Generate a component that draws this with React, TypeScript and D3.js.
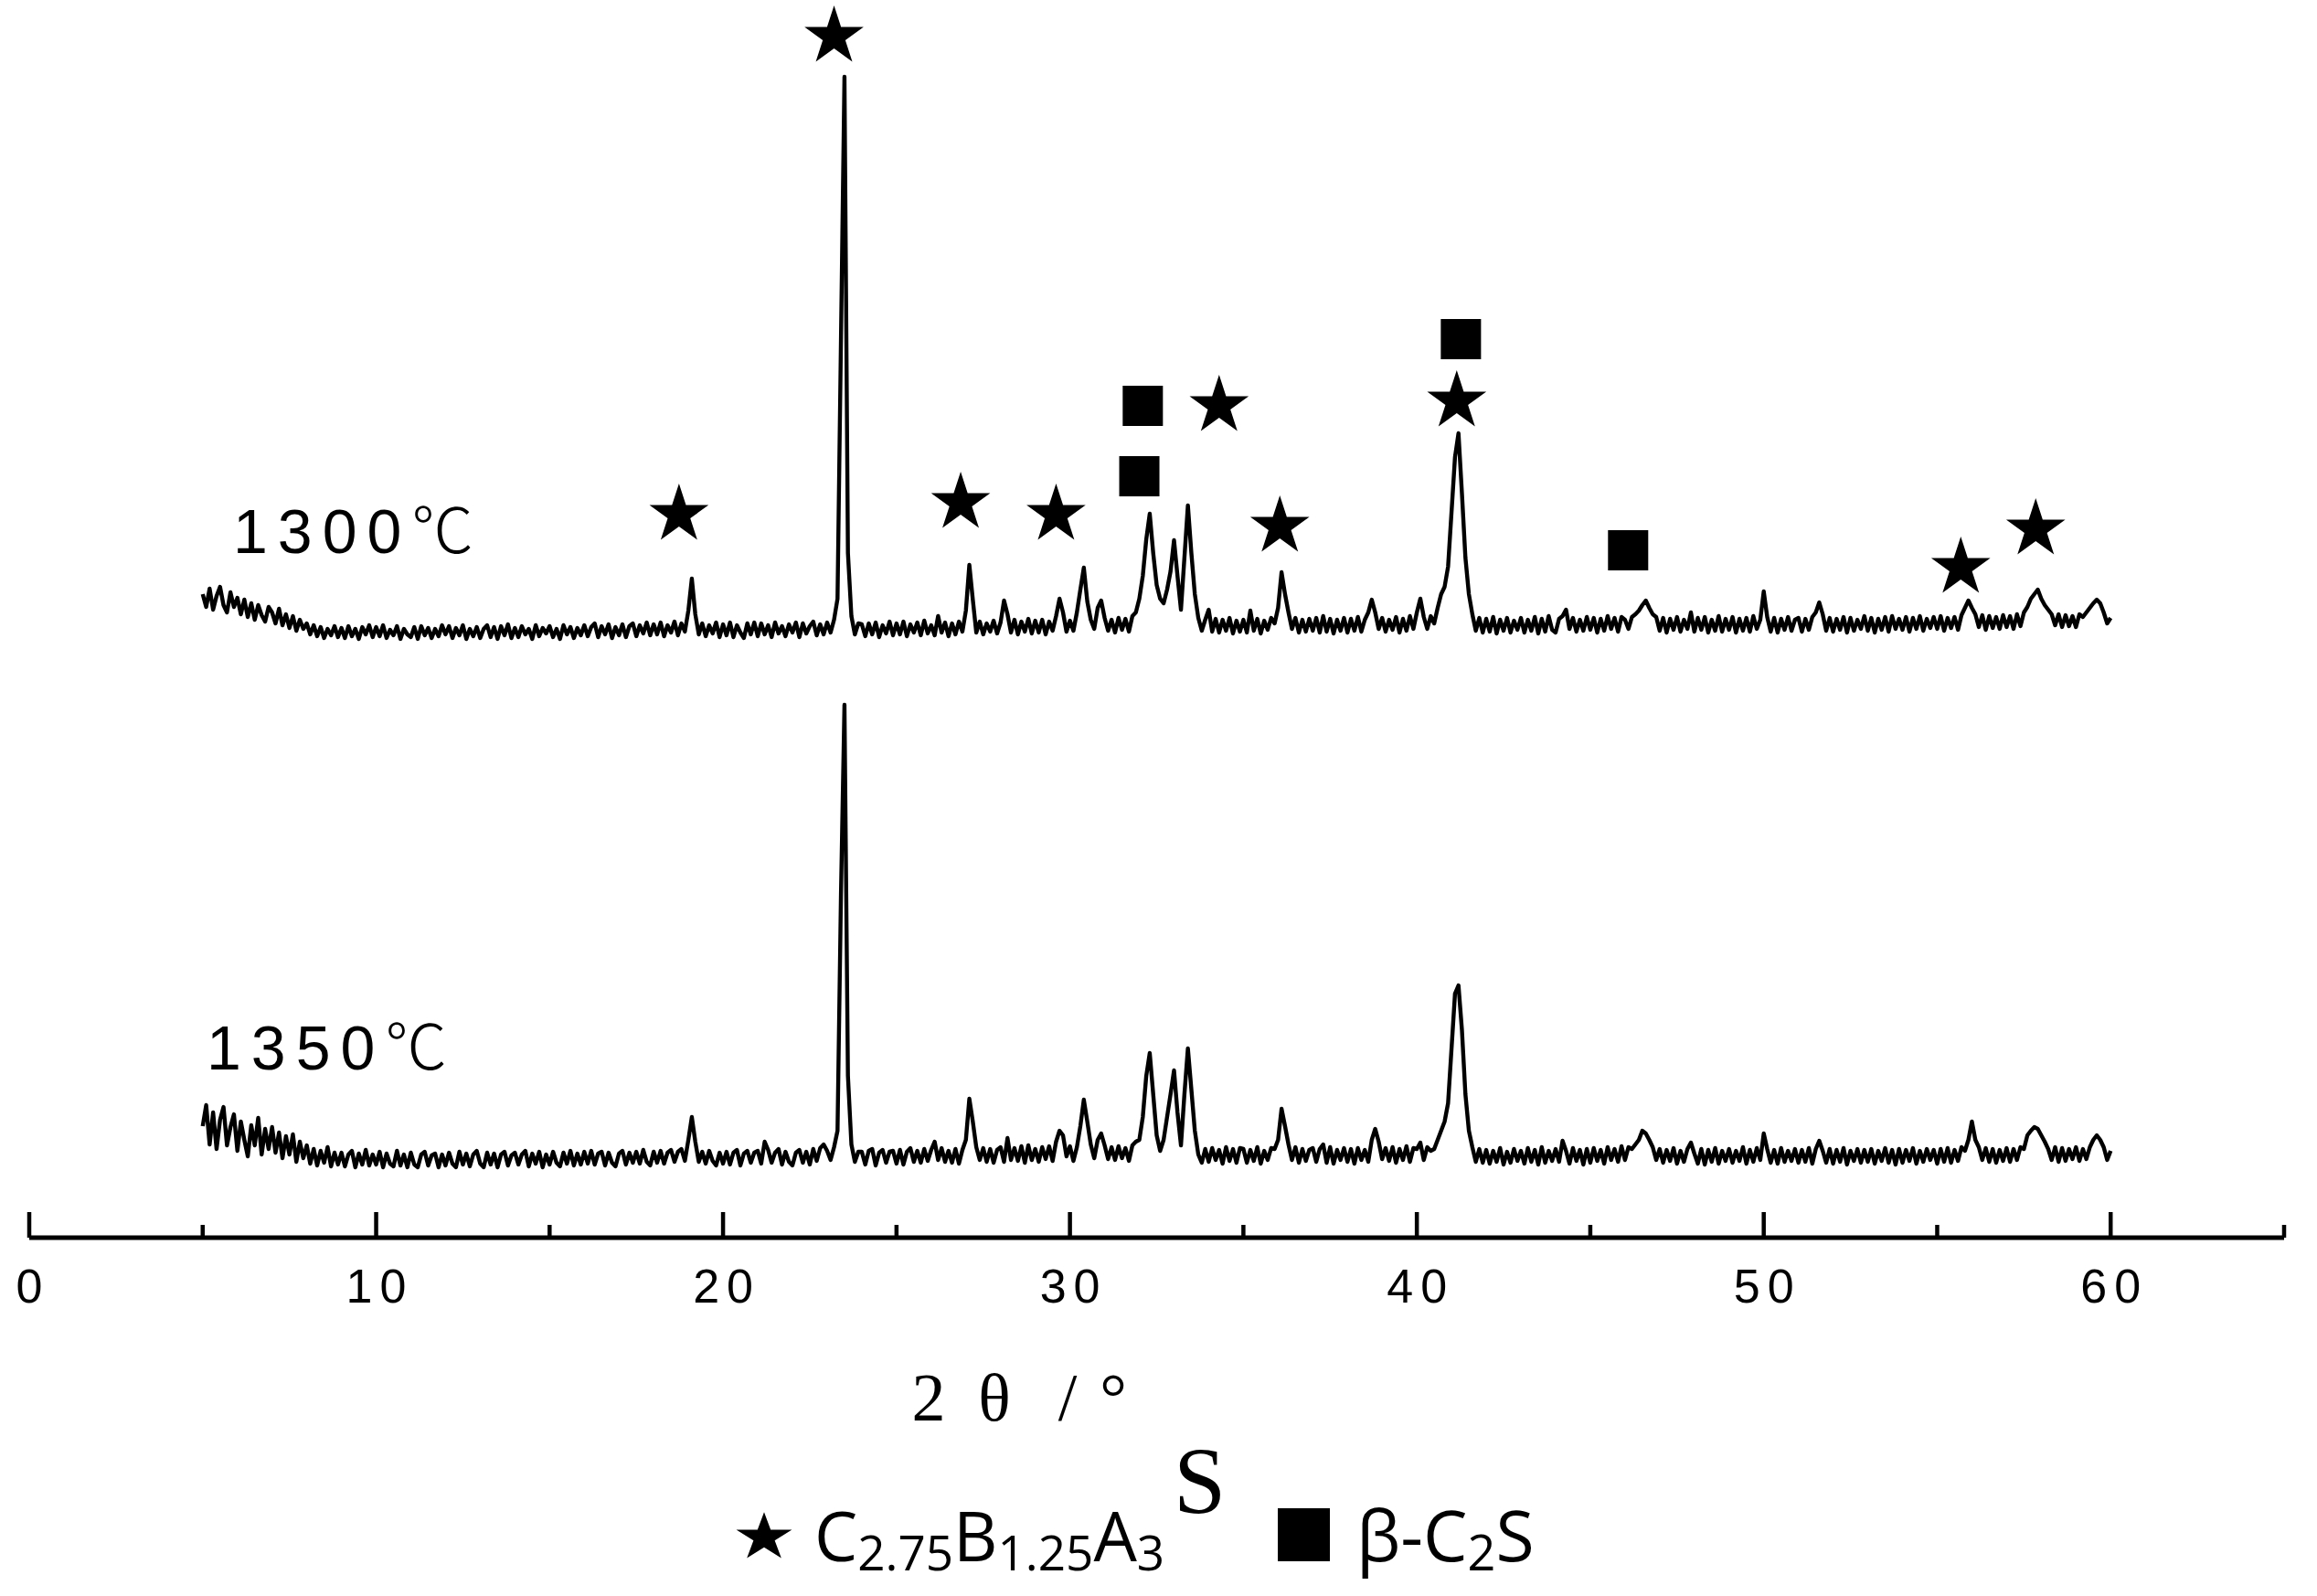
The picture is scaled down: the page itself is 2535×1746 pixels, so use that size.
import React from "react";
import * as d3 from "d3";

// 2θ sampling of both patterns (degrees)
const thetaStart = 5;
const thetaStep = 0.1;

// Intensity (a.u.) of the 1300 ℃ sample, one value per 0.1° from 5° to 60°
const intensity1300 = [
  50,36,56,33,48,58,38,30,52,36,
  46,28,44,25,40,22,38,27,20,36,
  30,18,34,16,28,13,26,10,22,12,
  18,6,16,4,14,2,12,5,15,3,
  13,2,15,4,12,1,14,6,16,3,
  14,4,16,2,11,5,15,1,12,6,
  3,14,1,15,5,13,2,12,4,16,
  6,15,2,13,5,16,1,12,4,14,
  2,12,16,3,14,1,15,5,17,2,
  13,3,15,6,12,1,16,4,13,7,
  15,3,12,1,16,6,14,2,13,5,
  16,4,14,18,3,15,6,17,2,14,
  5,17,3,15,18,4,16,7,19,5,
  17,6,19,4,16,8,20,5,18,9,
  32,67,28,6,18,4,16,7,19,3,
  17,5,19,3,16,8,2,18,6,19,
  4,18,6,16,3,19,7,15,4,17,
  8,19,3,18,7,15,20,5,17,6,
  19,8,22,45,330,616,95,26,6,18,
  17,4,18,6,19,3,16,7,20,5,
  18,6,20,4,17,8,19,5,21,7,
  16,5,26,8,19,4,18,6,20,9,
  32,82,44,8,20,6,18,9,21,7,
  19,43,28,8,22,6,20,9,23,7,
  21,8,22,6,20,10,26,45,30,9,
  21,10,30,55,79,42,22,12,35,43,
  24,10,22,8,24,11,23,9,26,30,
  45,70,110,138,95,60,45,40,55,75,
  109,70,33,90,147,95,50,24,10,22,
  33,9,23,8,22,10,24,7,21,9,
  22,8,32,10,23,7,21,11,24,18,
  35,74,50,30,12,24,8,22,9,23,
  10,24,8,26,9,23,7,22,10,24,
  8,23,10,25,9,22,30,44,30,12,
  24,9,22,11,25,8,23,10,26,12,
  30,45,25,12,26,18,35,50,58,80,
  140,200,226,160,90,50,28,10,24,8,
  23,9,25,7,22,10,24,8,21,11,
  24,8,22,10,25,7,23,9,26,11,
  8,23,26,33,12,24,9,22,10,25,
  11,24,8,23,10,26,12,24,9,25,
  22,12,25,28,32,38,43,35,28,25,
  10,24,8,23,11,25,9,22,12,30,
  9,24,11,25,8,22,10,26,9,23,
  11,25,8,23,10,24,9,26,12,22,
  53,25,9,24,8,23,11,25,10,22,
  24,9,23,11,25,30,41,28,10,24,
  9,23,11,25,8,24,10,22,12,26,
  10,24,8,23,11,25,9,26,12,23,
  11,25,9,24,12,26,10,23,13,25,
  12,26,10,24,13,25,11,27,35,43,
  35,28,14,27,11,26,13,25,12,27,
  14,26,12,28,15,30,36,45,50,55,
  45,38,33,28,16,28,14,27,15,26,
  14,28,25,30,35,40,44,40,30,18,
  24,
];

// Intensity (a.u.) of the 1350 ℃ sample, one value per 0.1° from 5° to 60°
const intensity1350 = [
  45,68,25,60,20,52,66,24,44,58,
  18,50,30,12,46,24,54,14,42,20,
  44,16,38,10,34,14,36,6,28,10,
  24,4,20,2,18,5,22,1,16,3,
  16,1,14,18,0,15,3,19,2,14,
  3,17,0,15,4,1,18,2,14,0,
  16,3,0,14,17,2,13,15,0,14,
  2,16,4,0,17,3,15,1,14,18,
  4,0,16,3,15,0,14,17,2,13,
  16,3,14,18,1,15,4,17,0,14,
  3,17,5,1,16,4,18,2,15,3,
  17,4,18,3,15,17,2,16,5,1,
  15,18,3,16,5,17,4,19,6,2,
  17,5,18,4,16,19,6,17,20,7,
  30,55,28,6,17,4,18,7,2,16,
  4,17,3,16,19,2,15,18,5,16,
  18,4,28,19,5,16,20,3,17,6,
  2,16,19,5,17,3,20,7,21,25,
  18,8,22,40,300,506,100,25,6,17,
  17,3,18,20,2,16,19,5,17,18,
  4,19,3,17,21,6,18,5,20,7,
  19,28,8,21,6,18,5,20,4,19,
  30,75,50,22,8,21,6,20,5,19,
  22,6,32,8,21,7,23,5,24,8,
  20,6,22,9,23,7,28,40,35,12,
  23,7,22,45,74,50,25,10,30,37,
  24,9,22,8,23,10,21,7,24,28,
  30,55,100,125,80,35,18,30,55,80,
  106,60,24,80,130,85,40,14,5,20,
  6,21,8,19,4,22,7,20,5,21,
  20,5,19,7,22,4,18,8,21,20,
  30,64,45,25,8,22,5,20,7,19,
  21,6,20,25,5,22,4,19,8,21,
  6,20,4,21,8,19,6,30,42,28,
  9,21,7,22,5,20,8,23,6,21,
  20,27,8,22,18,20,30,40,50,70,
  130,190,199,150,80,40,22,6,20,5,
  19,4,18,6,21,3,17,5,20,7,
  18,4,21,6,19,3,22,5,18,7,
  20,6,29,18,4,21,7,19,3,20,
  5,21,7,19,4,22,8,20,6,23,
  8,22,20,25,30,40,37,30,22,8,
  20,5,19,7,21,4,18,6,20,27,
  15,4,20,3,19,6,21,4,18,7,
  20,5,18,7,22,4,19,6,21,8,
  37,20,5,19,4,21,6,18,7,20,
  5,19,6,21,4,20,29,18,5,20,
  4,19,6,21,3,18,7,20,5,19,
  6,20,4,18,7,21,5,19,3,20,
  5,19,7,21,4,18,6,20,8,19,
  4,20,6,21,5,19,7,22,18,30,
  50,30,22,8,21,6,20,5,19,7,
  21,6,20,8,22,20,35,40,44,42,
  35,28,20,8,22,6,21,7,20,9,
  22,7,20,9,22,30,35,30,22,8,
  18,
];

// vertical stacking offset of each pattern (a.u.)
const sampleNames = ["1300℃", "1350℃"];
const sampleOffsets = [577, 0];

// phase markers (on the 1300 ℃ pattern): 2θ and level above its zero (a.u.)
const starTheta = [18.73, 23.2, 26.85, 29.6, 34.3, 36.05, 41.15, 55.68, 57.84];
const starLevel = [137, 660, 150, 137, 256, 124, 261, 79, 121];
const squareTheta = [32.0, 32.1, 41.27, 46.09];
const squareLevel = [179, 256, 329, 98];

// axis ticks
const majorTicks = [0, 10, 20, 30, 40, 50, 60];
const minorTicks = [5, 15, 25, 35, 45, 55, 65];

export default function App() {
  const W = 2535;
  const H = 1746;
  const x = d3.scaleLinear().domain([0, 65]).range([32, 2499]);
  const y = d3.scaleLinear().domain([0, 1300]).range([1277, -23]);
  const axisY = 1354;

  const series = [intensity1300, intensity1350];
  const paths = series.map((vals, k) => {
    const pts: [number, number][] = vals.map((v, i) => [thetaStart + i * thetaStep, v]);
    const line = d3
      .line<[number, number]>()
      .x((d) => x(d[0]))
      .y((d) => y(d[1] + sampleOffsets[k]));
    return line(pts) || "";
  });

  const starPath = d3.symbol(d3.symbolStar, 1298)() || "";
  const legendStar = d3.symbol(d3.symbolStar, 1150)() || "";

  const labelPos = [
    { x: 255, y: 605 },
    { x: 226, y: 1170 },
  ];

  return (
    <svg
      width={W}
      height={H}
      viewBox={`0 0 ${W} ${H}`}
      style={{ position: "absolute", left: 0, top: 0, background: "#fff" }}
    >
      <rect x={0} y={0} width={W} height={H} fill="#fff" />
      {paths.map((p, k) => (
        <path
          key={k}
          d={p}
          fill="none"
          stroke="#000"
          strokeWidth={4.4}
          strokeLinejoin="round"
        />
      ))}

      {sampleNames.map((name, k) => (
        <text
          key={name}
          x={labelPos[k].x}
          y={labelPos[k].y}
          fontFamily="'Liberation Sans', Arial, sans-serif"
          fontSize={68}
          letterSpacing={11}
          fill="#000"
        >
          {name.slice(0, 4)}
          <tspan fontFamily="'Noto Sans CJK SC', 'DejaVu Sans', sans-serif" fontWeight={300}>
            {name.slice(4)}
          </tspan>
        </text>
      ))}

      {starTheta.map((t, i) => (
        <path
          key={"s" + i}
          d={starPath}
          transform={`translate(${x(t)},${y(starLevel[i] + sampleOffsets[0])})`}
          fill="#000"
        />
      ))}
      {squareTheta.map((t, i) => (
        <rect
          key={"q" + i}
          x={x(t) - 22}
          y={y(squareLevel[i] + sampleOffsets[0]) - 22}
          width={44}
          height={44}
          fill="#000"
        />
      ))}

      {/* x axis */}
      <line x1={x(0)} x2={x(65)} y1={axisY} y2={axisY} stroke="#000" strokeWidth={5} />
      {majorTicks.map((t) => (
        <line key={"M" + t} x1={x(t)} x2={x(t)} y1={axisY} y2={axisY - 28} stroke="#000" strokeWidth={4.5} />
      ))}
      {minorTicks.map((t) => (
        <line key={"m" + t} x1={x(t)} x2={x(t)} y1={axisY} y2={axisY - 14} stroke="#000" strokeWidth={4.5} />
      ))}
      {majorTicks.map((t) => (
        <text
          key={"L" + t}
          x={x(t)}
          dx={4}
          y={1425}
          textAnchor="middle"
          fontFamily="'Liberation Sans', Arial, sans-serif"
          fontSize={52}
          letterSpacing={8}
          fill="#000"
        >
          {String(t)}
        </text>
      ))}

      <text
        x="1016 1088 1168 1218"
        y={1554}
        textAnchor="middle"
        fontFamily="'Liberation Serif', 'DejaVu Serif', serif"
        fontSize={74}
        fill="#000"
      >
        2θ/°
      </text>

      {/* legend */}
      <path d={legendStar} transform="translate(836,1682) scale(1,0.87)" fill="#000" />
      <text x={891} y={1708} fontFamily="'Open Sans', sans-serif" fontSize={75} fill="#000">
        C
        <tspan fontSize={53} dy={10}>2.75</tspan>
        <tspan dy={-10}>B</tspan>
        <tspan fontSize={53} dy={10}>1.25</tspan>
        <tspan dy={-10}>A</tspan>
        <tspan fontSize={53} dy={10}>3</tspan>
      </text>
      <text x={1284} y={1655} fontFamily="'Liberation Serif', serif" fontSize={103} fill="#000">
        S
      </text>
      <rect x={1398} y={1650} width={57} height={58} fill="#000" />
      <text x={1484} y={1708} fontFamily="'Open Sans', sans-serif" fontSize={77} fill="#000">
        β-C
        <tspan fontSize={54} dy={10}>2</tspan>
        <tspan dy={-10}>S</tspan>
      </text>
    </svg>
  );
}
